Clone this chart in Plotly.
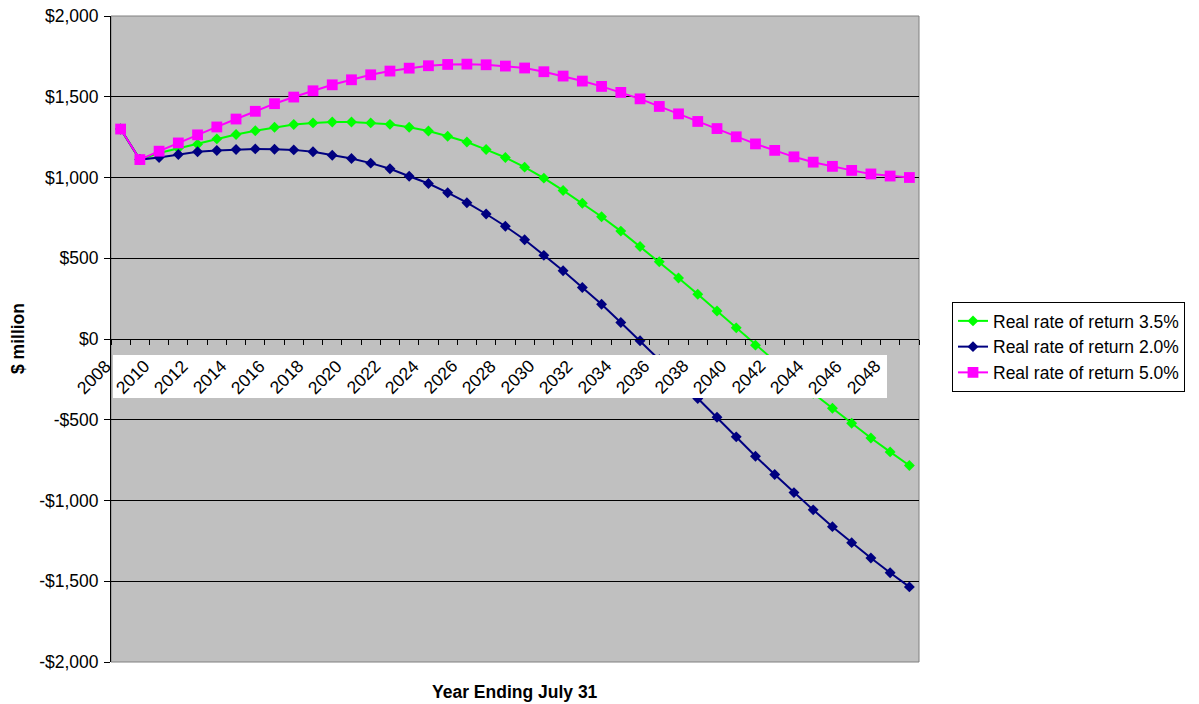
import plotly.graph_objects as go

# Fiscal years (year ending July 31)
years = list(range(2008, 2050))

# Projected balance, $ million, under three real-return assumptions
rate_35 = [1300, 1111, 1152, 1181, 1206, 1239, 1266, 1290, 1311, 1328,
           1338, 1344, 1344, 1338, 1329, 1311, 1288, 1255, 1220, 1173,
           1124, 1064, 996, 920, 841, 757, 668, 573, 478, 378,
           277, 173, 69, -38, -142, -240, -336, -429, -522, -613,
           -699, -783]
rate_20 = [1300, 1111, 1124, 1142, 1159, 1167, 1173, 1177, 1175, 1171,
           1159, 1138, 1118, 1089, 1054, 1008, 963, 906, 844, 774,
           698, 615, 518, 423, 319, 215, 102, -11, -128, -248,
           -369, -485, -606, -726, -839, -951, -1058, -1162, -1261, -1356,
           -1447, -1535]
rate_50 = [1300, 1111, 1163, 1214, 1264, 1313, 1362, 1410, 1457, 1498,
           1537, 1574, 1605, 1636, 1659, 1677, 1692, 1700, 1702, 1698,
           1690, 1678, 1655, 1628, 1597, 1564, 1527, 1487, 1440, 1394,
           1347, 1303, 1252, 1208, 1168, 1128, 1095, 1069, 1044, 1022,
           1009, 1000]

series_names = ["Real rate of return 3.5%", "Real rate of return 2.0%",
                "Real rate of return 5.0%"]

y_tickvals = [-2000, -1500, -1000, -500, 0, 500, 1000, 1500, 2000]
y_ticktext = ["-$2,000", "-$1,500", "-$1,000", "-$500", "$0",
              "$500", "$1,000", "$1,500", "$2,000"]

x_labels = [str(y) for y in years if y % 2 == 0]

FONT = "Arial, 'Liberation Sans', sans-serif"
FS = 17.5

fig = go.Figure()
styles = [
    (rate_35, "#00FF00", "diamond", 8.4),
    (rate_20, "#000080", "diamond", 8.4),
    (rate_50, "#FF00FF", "square", 10.8),
]
for (vals, color, sym, size), name in zip(styles, series_names):
    fig.add_trace(go.Scatter(
        x=years, y=vals, name=name, mode="lines+markers",
        line=dict(color=color, width=2),
        marker=dict(symbol=sym, size=size, color=color),
    ))

# category boundaries for the tick marks on the zero-crossing axis
boundaries = [years[0] - 0.5 + i for i in range(len(years) + 1)]

fig.update_layout(
    width=1199, height=704,
    margin=dict(l=111, r=280, t=16, b=42, autoexpand=False),
    paper_bgcolor="white", plot_bgcolor="#C0C0C0",
    font=dict(family=FONT, size=FS, color="black"),
    showlegend=True,
    legend=dict(
        x=(952 - 111) / 808, y=(662 - 302) / 646,
        xanchor="left", yanchor="top",
        bgcolor="white", bordercolor="black", borderwidth=1,
        font=dict(family=FONT, size=FS, color="black"),
        tracegroupgap=0,
    ),
    xaxis=dict(
        range=[years[0] - 0.5, years[-1] + 0.5],
        anchor="free", position=0.5, automargin=False,
        showgrid=False, zeroline=False,
        showline=True, linecolor="black", linewidth=1,
        ticks="outside", ticklen=5, tickcolor="black", tickwidth=1,
        tickvals=boundaries, showticklabels=False,
    ),
    yaxis=dict(
        range=[-2000, 2000], automargin=False,
        tickvals=y_tickvals, ticktext=y_ticktext,
        showgrid=True, gridcolor="black", gridwidth=1,
        zeroline=False,
        showline=True, linecolor="black", linewidth=1,
        ticks="outside", ticklen=6, tickcolor="black",
        ticklabelstandoff=2,
        tickfont=dict(family=FONT, size=FS, color="black"),
    ),
)

# plot-area frame
fig.add_shape(type="rect", xref="paper", yref="paper", x0=0, x1=1, y0=0, y1=1,
              line=dict(color="#808080", width=1), layer="below")

# white band behind the category labels
fig.add_shape(type="rect", xref="paper", yref="paper",
              x0=2 / 808, x1=776 / 808, y0=(662 - 398) / 646, y1=(662 - 355) / 646,
              fillcolor="white", line=dict(width=0), layer="above")

for lab in x_labels:
    fig.add_annotation(
        x=int(lab), y=0, xref="x", yref="y", text=lab, showarrow=False,
        textangle=-45, xanchor="right", yanchor="top",
        xshift=-3, yshift=-14,
        font=dict(family=FONT, size=FS, color="black"),
    )

fig.add_annotation(
    x=(18 - 111) / 808, y=0.5, xref="paper", yref="paper",
    text="<b>$ million</b>", showarrow=False, textangle=-90,
    xanchor="center", yanchor="middle",
    font=dict(family=FONT, size=FS, color="black"),
)
fig.add_annotation(
    x=0.5, y=(662 - 692) / 646, xref="paper", yref="paper",
    text="<b>Year Ending July 31</b>", showarrow=False,
    xanchor="center", yanchor="middle",
    font=dict(family=FONT, size=FS, color="black"),
)

fig.write_html("out.html")
